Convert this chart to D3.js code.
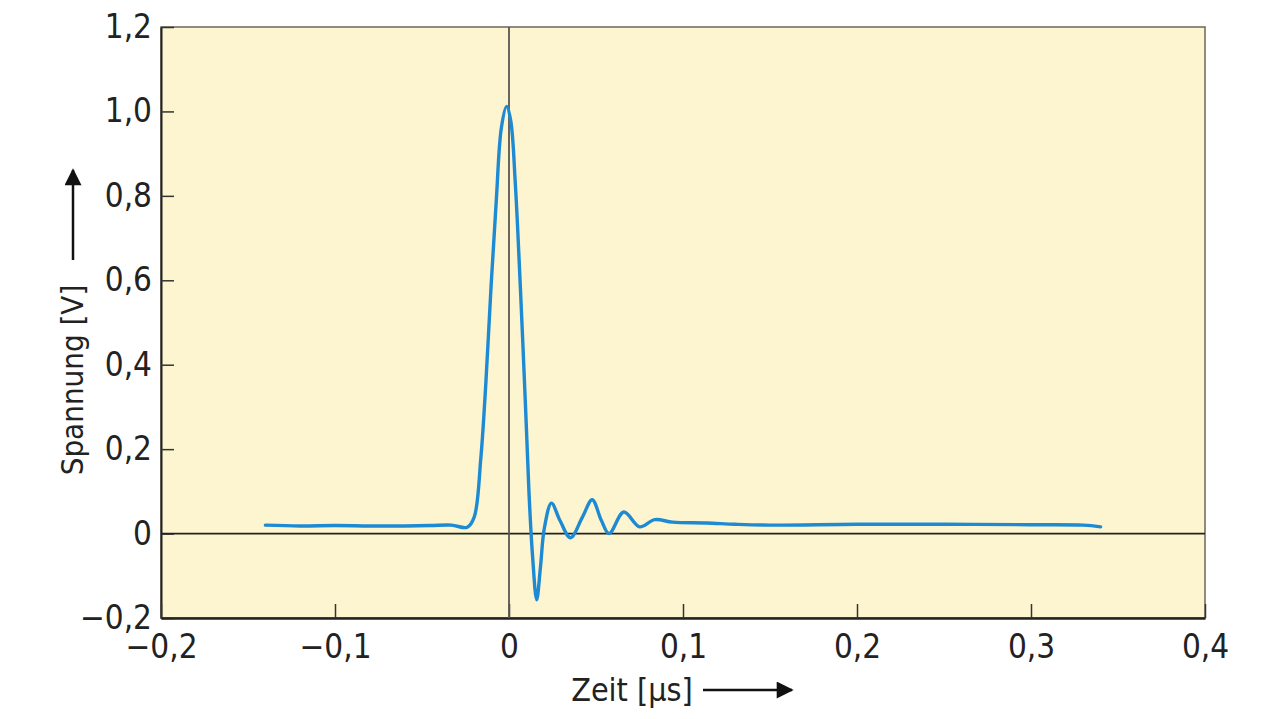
<!DOCTYPE html>
<html><head><meta charset="utf-8">
<script src="https://cdn.jsdelivr.net/npm/d3@7/dist/d3.min.js"></script>
<style>html,body{margin:0;padding:0;background:#fff;}svg{display:block;}
text{font-family:'DejaVu Sans',sans-serif;font-stretch:condensed;}</style>
</head><body>
<svg id="chart" width="1280" height="719"></svg>
<script>
// Data (time in µs, voltage in V)
const timeValues = [-0.14,-0.12,-0.10,-0.08,-0.06,-0.045,-0.033,-0.024,-0.020,-0.0162,-0.0133,-0.0103,-0.0073,-0.0044,-0.0014,0.001,0.0036,0.0065,0.0095,0.0115,0.0135,0.0159,0.018,0.0204,0.0244,0.0293,0.0353,0.0422,0.0478,0.0531,0.0575,0.066,0.075,0.0838,0.094,0.1135,0.13,0.15,0.2,0.25,0.3,0.33,0.34];
const voltageValues = [0.020,0.018,0.019,0.018,0.018,0.019,0.020,0.015,0.039,0.178,0.357,0.586,0.790,0.961,1.012,0.978,0.831,0.586,0.300,0.096,-0.051,-0.157,-0.083,0.015,0.072,0.031,-0.010,0.039,0.080,0.031,0.000,0.051,0.016,0.033,0.027,0.025,0.022,0.020,0.022,0.022,0.021,0.020,0.016];
const xTicks = [-0.2,-0.1,0,0.1,0.2,0.3,0.4];
const yTicks = [-0.2,0,0.2,0.4,0.6,0.8,1.0,1.2];
const xTickLabels = ["\u22120,2","\u22120,1","0","0,1","0,2","0,3","0,4"];
const yTickLabels = ["\u22120,2","0","0,2","0,4","0,6","0,8","1,0","1,2"];
const xTitle = "Zeit [µs]";
const yTitle = "Spannung [V]";

const svg = d3.select("#chart");
const L = 161, R = 1205, T = 27, B = 618;
const x = d3.scaleLinear().domain([-0.2,0.4]).range([L,R]);
const y = d3.scaleLinear().domain([-0.2,1.2]).range([B,T]);

svg.append("defs").append("marker").attr("id","arr").attr("viewBox","0 0 10 10")
  .attr("refX",9).attr("refY",5).attr("markerWidth",22).attr("markerHeight",17)
  .attr("markerUnits","userSpaceOnUse").attr("orient","auto")
  .append("path").attr("d","M0,0 L10,5 L0,10 Z").attr("fill","#111");

// plot background
svg.append("rect").attr("x",L).attr("y",T).attr("width",R-L).attr("height",B-T)
  .attr("fill","#fdf5d0").attr("stroke","#6b6558").attr("stroke-width",1.5);

// y axis (ticks inward)
const yAxis = d3.axisLeft(y).tickValues(yTicks).tickSizeInner(-13).tickSizeOuter(0)
  .tickFormat((d,i)=>yTickLabels[i]).tickPadding(22);
const gy = svg.append("g").attr("transform",`translate(${L},0)`).call(yAxis);
gy.attr("font-family",null);
gy.select(".domain").attr("stroke","#222").attr("stroke-width",2);
gy.selectAll(".tick line").attr("stroke","#333").attr("stroke-width",1.5);
gy.selectAll(".tick text").attr("font-size",33).attr("fill","#222").attr("dx",13);

// x axis (ticks inward)
const xAxis = d3.axisBottom(x).tickValues(xTicks).tickSizeInner(-14).tickSizeOuter(0)
  .tickFormat((d,i)=>xTickLabels[i]).tickPadding(17);
const gx = svg.append("g").attr("transform",`translate(0,${B})`).call(xAxis);
gx.attr("font-family",null);
gx.select(".domain").attr("stroke","#222").attr("stroke-width",2.5);
gx.selectAll(".tick line").attr("stroke","#333").attr("stroke-width",1.5);
gx.selectAll(".tick text").attr("font-size",33).attr("fill","#222");

// zero lines
svg.append("line").attr("x1",L).attr("x2",R).attr("y1",y(0)).attr("y2",y(0))
  .attr("stroke","#222").attr("stroke-width",1.8);
svg.append("line").attr("x1",x(0)).attr("x2",x(0)).attr("y1",T).attr("y2",B)
  .attr("stroke","#5a5650").attr("stroke-width",1.8);

// curve
const data = timeValues.map((t,i)=>[t,voltageValues[i]]);
const line = d3.line().x(d=>x(d[0])).y(d=>y(d[1])).curve(d3.curveCatmullRom.alpha(0.5));
svg.append("path").datum(data).attr("d",line).attr("fill","none")
  .attr("stroke","#1d8ad3").attr("stroke-width",3.4).attr("stroke-linejoin","round").attr("stroke-linecap","round");

// y title + arrow
svg.append("text").attr("transform","translate(83,380) rotate(-90)")
  .attr("text-anchor","middle").attr("font-size",31).attr("fill","#222").text(yTitle);
svg.append("line").attr("x1",73).attr("x2",73).attr("y1",260).attr("y2",170)
  .attr("stroke","#111").attr("stroke-width",2.5).attr("marker-end","url(#arr)");

// x title + arrow
svg.append("text").attr("x",632).attr("y",701).attr("text-anchor","middle")
  .attr("font-size",32).attr("fill","#222").text(xTitle);
svg.append("line").attr("x1",703).attr("x2",792).attr("y1",690).attr("y2",690)
  .attr("stroke","#111").attr("stroke-width",2.5).attr("marker-end","url(#arr)");
</script>
</body></html>
